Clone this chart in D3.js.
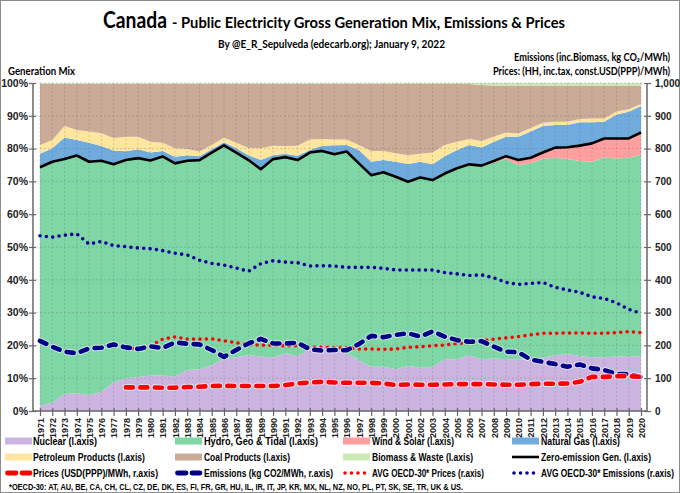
<!DOCTYPE html>
<html><head><meta charset="utf-8">
<script src="https://cdn.jsdelivr.net/npm/d3@7"></script>
<style>body{margin:0;background:#fff}</style>
</head><body>
<svg id="c" width="680" height="493"></svg>
<script>
// ---------------- DATA ----------------
const years = [1971,1972,1973,1974,1975,1976,1977,1978,1979,1980,
  1981,1982,1983,1984,1985,1986,1987,1988,1989,1990,
  1991,1992,1993,1994,1995,1996,1997,1998,1999,2000,
  2001,2002,2003,2004,2005,2006,2007,2008,2009,2010,
  2011,2012,2013,2014,2015,2016,2017,2018,2019,2020];

// Generation mix shares (%)
const nuclear = [1.6,2.5,5.2,5.4,4.8,5.9,8.7,10.0,10.4,10.8,
  10.8,10.5,12.5,12.7,14.0,15.9,16.4,17.0,16.6,16.3,
  17.6,16.6,18.9,20.3,18.7,17.6,15.5,13.5,13.5,12.7,
  13.7,13.3,13.5,15.8,15.8,17.0,15.8,16.0,15.8,15.8,
  15.8,16.2,17.0,17.4,16.8,16.4,16.4,16.6,16.8,16.6];
const hydro = [72.7,73.5,71.6,72.5,71.2,70.4,66.5,66.5,66.7,65.6,
  66.8,65.0,63.8,63.8,64.8,65.1,62.4,59.5,57.1,60.5,
  59.8,59.9,59.9,59.0,59.6,61.5,60.0,58.4,59.3,58.7,
  56.2,57.9,56.9,56.5,58.0,57.9,58.6,59.7,61.0,59.1,
  59.7,60.6,60.2,59.4,59.4,59.6,60.9,60.4,60.4,61.5];
const windSolar = [0,0,0,0,0,0,0,0,0,0,
  0,0,0,0,0,0,0,0,0,0,
  0,0,0,0,0,0,0,0,0,0,
  0,0,0,0.1,0.2,0.3,0.4,0.5,0.9,1.6,
  1.7,2.0,3.1,3.6,4.7,5.6,5.8,6.1,5.9,6.8];
const naturalGas = [4.1,4.1,6.6,4.7,5.8,4.5,4.2,2.7,2.7,2.4,
  1.7,2.0,1.7,1.2,1.0,0.9,1.3,1.5,2.8,1.2,
  1.0,1.3,0.8,1.6,2.7,2.0,4.1,4.1,3.7,4.6,
  5.4,4.8,4.8,5.3,5.6,5.9,5.5,5.9,5.9,7.1,
  8.0,8.1,6.9,6.8,7.1,6.4,5.1,7.3,8.1,8.1];
const petroleum = [2.7,2.5,3.5,3.1,3.4,3.9,3.8,4.4,3.8,3.3,
  2.5,2.6,1.9,1.4,1.3,1.4,1.7,2.2,3.6,2.9,
  2.4,3.1,3.2,2.0,1.8,1.7,1.5,3.3,2.8,2.6,
  2.7,2.4,3.6,3.4,2.5,1.8,2.0,1.5,1.3,1.0,
  1.1,1.0,1.0,1.0,1.0,1.2,1.0,0.9,0.8,0.6];
const coal = [18.7,17.2,12.9,14.1,14.6,15.1,16.6,16.2,16.2,17.7,
  18.0,19.7,19.9,20.7,18.7,16.5,18.0,19.6,19.7,18.9,
  19.0,18.9,17.0,16.9,17.0,17.0,18.7,20.5,20.5,21.1,
  21.7,21.3,20.9,18.6,17.6,16.8,17.1,15.6,14.3,14.6,
  12.9,11.3,11.0,11.0,10.2,10.0,10.0,7.9,7.2,5.6];
const biomass = [0.2,0.2,0.2,0.2,0.2,0.2,0.2,0.2,0.2,0.2,
  0.2,0.2,0.2,0.2,0.2,0.2,0.2,0.2,0.2,0.2,
  0.2,0.2,0.2,0.2,0.2,0.2,0.2,0.2,0.2,0.3,
  0.3,0.3,0.3,0.3,0.3,0.3,0.6,0.8,0.8,0.8,
  0.8,0.8,0.8,0.8,0.8,0.8,0.8,0.8,0.8,0.8];
const zeroEmission = [74.3,76.0,76.8,77.9,76.0,76.3,75.2,76.5,77.1,76.4,
  77.6,75.5,76.3,76.5,78.8,81.0,78.8,76.5,73.7,76.8,
  77.4,76.5,78.8,79.3,78.3,79.1,75.5,71.9,72.8,71.4,
  69.9,71.2,70.4,72.4,74.0,75.2,74.8,76.2,77.7,76.5,
  77.2,78.8,80.3,80.4,80.9,81.6,83.1,83.1,83.1,84.9];

// Right axis series
const emissions = [214,196,181,176,191,193,203,194,189,197,
  192,209,205,203,186,165,186,206,220,206,
  206,208,188,184,186,185,204,229,225,232,
  237,227,243,227,216,211,213,196,181,179,
  157,150,143,135,142,130,125,113,113,103];
const prices = [null,null,null,null,null,null,null,72,72,72,
  71,71,73,74,76,77,76,76,76,76,
  79,84,87,89,87,86,86,86,84,79,
  81,80,80,81,82,82,82,81,80,80,
  82,83,83,84,89,104,104,106,106,104];
const oecdPrices = [null,null,null,null,null,null,null,194,189,198,
  219,226,219,219,220,214,208,202,201,200,
  199,199,194,194,193,193,189,189,188,189,
  194,196,199,201,206,208,214,219,223,227,
  232,237,237,238,238,237,237,239,242,239];
const oecdEmissions = [534,530,536,540,509,517,504,501,497,495,
  489,481,476,460,450,445,436,426,449,458,
  454,452,442,443,442,438,438,438,435,430,
  430,430,430,422,418,413,415,406,392,386,
  389,392,377,369,362,348,343,330,310,298];

const leftTicks = [0,10,20,30,40,50,60,70,80,90,100];
const rightTicks = [0,100,200,300,400,500,600,700,800,900,1000];

// ---------------- CHART ----------------
const svg = d3.select("#c");
const FONT = "'Liberation Sans', Arial, sans-serif";
const NARROW = "'Liberation Sans Narrow','Arial Narrow','Liberation Sans',Arial,sans-serif";
const TITLEF = "Lato, 'Open Sans', sans-serif";

svg.append("rect").attr("x",0.5).attr("y",0.5).attr("width",679).attr("height",492)
  .attr("fill","#fff").attr("stroke","#8c8c8c");

const x = d3.scalePoint().domain(years).range([40, 641]);
const yL = d3.scaleLinear().domain([0,100]).range([411,83]);
const yR = d3.scaleLinear().domain([0,1000]).range([411,83]);

const colors = {nuclear:"#CBB5E0", hydro:"#7FD7A6", wind:"#FF9F9F", gas:"#6FABDD",
  petroleum:"#FFE69E", coal:"#C9AB98", biomass:"#CBEBB2"};
const keys = ["nuclear","hydro","wind","gas","petroleum","coal","biomass"];
const series = {nuclear, hydro, wind:windSolar, gas:naturalGas, petroleum, coal, biomass};
const rows = years.map((yr,i)=>{const o={year:yr}; keys.forEach(k=>o[k]=series[k][i]); return o;});
const stacked = d3.stack().keys(keys)(rows);
const area = d3.area().x(d=>x(d.data.year)).y0(d=>yL(d[0])).y1(d=>yL(d[1]));

svg.append("g").selectAll("path").data(stacked).join("path")
  .attr("d", area).attr("fill", d=>colors[d.key]);

// gridlines
const grid = svg.append("g").attr("stroke","#6b6b6b").attr("stroke-opacity",0.35)
  .attr("stroke-width",0.8).attr("stroke-dasharray","2,2");
grid.selectAll("line.h").data(leftTicks.slice(1)).join("line")
  .attr("x1",36).attr("x2",644).attr("y1",d=>yL(d)).attr("y2",d=>yL(d));
grid.selectAll("line.v").data(years).join("line")
  .attr("x1",d=>x(d)).attr("x2",d=>x(d)).attr("y1",83).attr("y2",411);

// zero-emission line
svg.append("path").datum(zeroEmission)
  .attr("d", d3.line().x((d,i)=>x(years[i])).y(d=>yL(d)))
  .attr("fill","none").attr("stroke","#000").attr("stroke-width",2.6).attr("stroke-linejoin","round");

const lineR = d3.line().defined(d=>d!=null).x((d,i)=>x(years[i])).y(d=>yR(d));

function dotted(data,color){
  svg.append("path").datum(data).attr("d",lineR).attr("fill","none")
    .attr("stroke",color).attr("stroke-width",3.6).attr("stroke-linecap","round")
    .attr("stroke-dasharray","0,6.4");
}
function dashed(data,color){
  svg.append("path").datum(data).attr("d",lineR).attr("fill","none")
    .attr("stroke","#fff").attr("stroke-opacity",0.6).attr("stroke-width",6.5).attr("stroke-linecap","round")
    .attr("stroke-dasharray","7,7.5");
  svg.append("path").datum(data).attr("d",lineR).attr("fill","none")
    .attr("stroke",color).attr("stroke-width",4.6).attr("stroke-linecap","round")
    .attr("stroke-linejoin","round").attr("stroke-dasharray","7,7.5");
}
dotted(oecdEmissions,"#00009C");
dotted(oecdPrices,"#FF0000");
dashed(emissions,"#00008B");
dashed(prices,"#FF0000");

// axes
const axisColor = "#666";
const gL = svg.append("g").attr("transform","translate(33,0)")
  .call(d3.axisLeft(yL).tickValues(leftTicks).tickFormat(d=>d+"%").tickSize(4).tickPadding(1));
gL.select(".domain").remove();
gL.selectAll(".tick line").attr("x1",3).attr("stroke",axisColor).attr("stroke-width",1.2);
gL.append("line").attr("y1",83).attr("y2",411).attr("stroke",axisColor).attr("stroke-width",1.5);
gL.selectAll("text").attr("font-family",FONT).attr("font-weight","bold").attr("font-size",10.5).attr("fill","#222");

const gR = svg.append("g").attr("transform","translate(647,0)")
  .call(d3.axisRight(yR).tickValues(rightTicks).tickFormat(d3.format(",")).tickSize(4).tickPadding(4));
gR.select(".domain").remove();
gR.selectAll(".tick line").attr("x1",-3).attr("stroke",axisColor).attr("stroke-width",1.2);
gR.append("line").attr("y1",83).attr("y2",411).attr("stroke",axisColor).attr("stroke-width",1.5);
gR.selectAll("text").attr("font-family",FONT).attr("font-weight","bold").attr("font-size",10).attr("fill","#222");

const gB = svg.append("g").attr("transform","translate(0,411)")
  .call(d3.axisBottom(x).tickSize(5).tickSizeOuter(0));
gB.select(".domain").remove();
gB.append("line").attr("x1",33).attr("x2",647).attr("stroke",axisColor).attr("stroke-width",1.5);
gB.selectAll(".tick line").attr("y1",-3).attr("stroke",axisColor).attr("stroke-width",1.2);
gB.selectAll(".tick text").attr("transform","translate(3.3,7) rotate(-90)")
  .attr("text-anchor","end").attr("dy",0).attr("y",0)
  .attr("font-family",FONT).attr("font-weight","bold").attr("font-size",9).attr("fill","#222");

// titles
function txt(s, xx, yy, size, opts={}){
  const t = svg.append("text").attr("x",xx).attr("y",yy).text(s)
    .attr("font-family",opts.family||TITLEF).attr("font-weight","bold").attr("font-size",size)
    .attr("fill",opts.fill||"#000").attr("text-anchor",opts.anchor||"start");
  if(opts.len){t.attr("textLength",opts.len).attr("lengthAdjust","spacingAndGlyphs");}
  return t;
}
txt("Canada",103,28,22,{len:64});
txt("- Public Electricity Gross Generation Mix, Emissions & Prices",172,28,16,{len:393});
txt("By @E_R_Sepulveda (edecarb.org); January 9, 2022",218,48,11,{len:227});
txt("Generation Mix",8,74.5,10.5,{len:67});
txt("Emissions (inc.Biomass, kg CO\u2082/MWh)",670,61,10.5,{len:156, anchor:"end"});
txt("Prices: (HH, inc.tax, const.USD(PPP)/MWh)",670,75,10.5,{len:177, anchor:"end"});

// legend
const colSw = [5,175,343,512], colTx = [33,204,372,541], rowY = [441,457,473];
const legend = [
  {t:"Nuclear (l.axis)", k:"area", c:colors.nuclear, w:64},
  {t:"Hydro, Geo & Tidal (l.axis)", k:"area", c:colors.hydro, w:114},
  {t:"Wind & Solar (l.axis)", k:"area", c:colors.wind, w:82},
  {t:"Natural Gas (l.axis)", k:"area", c:colors.gas, w:79},
  {t:"Petroleum Products (l.axis)", k:"area", c:colors.petroleum, w:112},
  {t:"Coal Products (l.axis)", k:"area", c:colors.coal, w:86},
  {t:"Biomass & Waste (l.axis)", k:"area", c:colors.biomass, w:101},
  {t:"Zero-emission Gen. (l.axis)", k:"line", c:"#000", w:110},
  {t:"Prices (USD(PPP)/MWh, r.axis)", k:"dash", c:"#FF0000", w:125},
  {t:"Emissions (kg CO2/MWh, r.axis)", k:"dash", c:"#00008B", w:129},
  {t:"AVG OECD-30* Prices (r.axis)", k:"dot", c:"#FF0000", w:112},
  {t:"AVG OECD-30* Emissions (r.axis)", k:"dot", c:"#00009C", w:133}
];
legend.forEach((it,i)=>{
  const r = Math.floor(i/4), c = i%4, yy = rowY[r], x0 = colSw[c];
  if(it.k==="area"){
    svg.append("rect").attr("x",x0).attr("y",yy-3.5).attr("width",27).attr("height",7).attr("fill",it.c);
  } else if(it.k==="line"){
    svg.append("line").attr("x1",x0).attr("x2",x0+27).attr("y1",yy).attr("y2",yy).attr("stroke",it.c).attr("stroke-width",2.6);
  } else if(it.k==="dash"){
    svg.append("line").attr("x1",x0+2.5).attr("x2",x0+25).attr("y1",yy).attr("y2",yy).attr("stroke",it.c)
      .attr("stroke-width",4.8).attr("stroke-linecap","round").attr("stroke-dasharray","8.5,6");
  } else {
    svg.append("line").attr("x1",x0+2).attr("x2",x0+22).attr("y1",yy).attr("y2",yy).attr("stroke",it.c)
      .attr("stroke-width",3.6).attr("stroke-linecap","round").attr("stroke-dasharray","0,6.5");
  }
  const size = it.w > 130 ? 10 : 10.5;
  if (colTx[c] + it.w > 660) {
    txt(it.t, colTx[c] + it.w, yy+3.8, size, {family:NARROW, len:it.w, anchor:"end"});
  } else {
    txt(it.t, colTx[c], yy+3.8, size, {family:NARROW, len:it.w});
  }
});
txt("*OECD-30: AT, AU, BE, CA, CH, CL, CZ, DE, DK, ES, FI, FR, GR, HU, IL, IR, IT, JP, KR, MX, NL, NZ, NO, PL, PT, SK, SE, TR, UK & US.",
  9,490,9,{family:NARROW, len:454});
</script>
</body></html>
